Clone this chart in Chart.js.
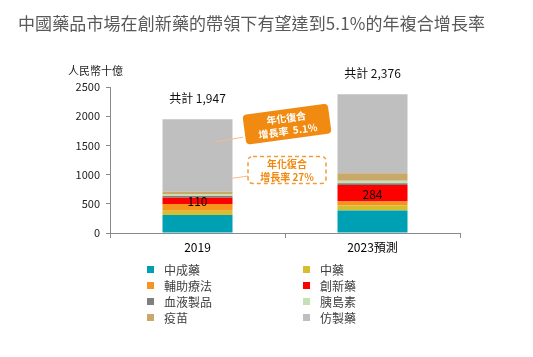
<!DOCTYPE html>
<html><head><meta charset="utf-8">
<script src="https://cdn.jsdelivr.net/npm/chart.js@4"></script>
<style>
html,body{margin:0;padding:0;background:#fff;}
#wrap{position:relative;width:533px;height:357px;font-family:"Noto Sans CJK TC","Noto Sans",sans-serif;}
#title{position:absolute;left:18px;top:10px;font-size:17px;color:#595959;white-space:nowrap;letter-spacing:0.1px;}
#unit{position:absolute;left:68px;top:62px;font-size:11px;color:#222;}
canvas{position:absolute;left:0;top:0;}
#legend{position:absolute;left:147px;top:262px;display:grid;grid-template-columns:156px 120px;row-gap:1px;}
.li{display:flex;align-items:center;height:15px;font-size:12px;color:#404040;}
.sw{width:7px;height:7px;margin-right:10px;}
</style></head>
<body><div id="wrap">
<canvas id="c" width="533" height="357"></canvas>
<div id="title">中國藥品市場在創新藥的帶領下有望達到5.1%的年複合增長率</div>
<div id="unit">人民幣十億</div>
<div id="legend"></div>
</div>
<script>
const categories = ["2019", "2023預測"];
const seriesNames = ["中成藥","中藥","輔助療法","創新藥","血液製品","胰島素","疫苗","仿製藥"];
const seriesColors = ["#00A0B4","#D6BE2E","#F7941D","#FF0000","#7F7F7F","#C5E0B4","#C8A96A","#BFBFBF"];
const s_zhongchengyao = [310, 385];
const s_zhongyao = [70, 86];
const s_fuzhu = [115, 68];
const s_chuangxin = [110, 284];
const s_xueye = [30, 29];
const s_yidaosu = [25, 44];
const s_yimiao = [45, 126];
const s_fangzhi = [1242, 1354];
const totals = [1947, 2376];
const yTicks = [0, 500, 1000, 1500, 2000, 2500];
const cagrLabels = [["年化復合","增長率  5.1%"],["年化復合","增長率 27%"]];

const seriesData = [s_zhongchengyao,s_zhongyao,s_fuzhu,s_chuangxin,s_xueye,s_yidaosu,s_yimiao,s_fangzhi];
const FONT = '"Noto Sans CJK TC","Noto Sans",sans-serif';

const leg = document.getElementById('legend');
seriesNames.forEach((n,i)=>{
  const d=document.createElement('div');d.className='li';
  d.innerHTML='<span class="sw" style="background:'+seriesColors[i]+'"></span><span>'+n+'</span>';
  leg.appendChild(d);
});

function rrect(ctx,x,y,w,h,r){
  ctx.beginPath();
  ctx.moveTo(x+r,y);ctx.lineTo(x+w-r,y);ctx.quadraticCurveTo(x+w,y,x+w,y+r);
  ctx.lineTo(x+w,y+h-r);ctx.quadraticCurveTo(x+w,y+h,x+w-r,y+h);
  ctx.lineTo(x+r,y+h);ctx.quadraticCurveTo(x,y+h,x,y+h-r);
  ctx.lineTo(x,y+r);ctx.quadraticCurveTo(x,y,x+r,y);ctx.closePath();
}

const overlay = {
  id:'overlay',
  afterDatasetsDraw(chart){
    const ctx=chart.ctx, xs=chart.scales.x, ys=chart.scales.y;
    ctx.save();
    ctx.font='12px '+FONT; ctx.fillStyle='#111'; ctx.textAlign='center'; ctx.textBaseline='middle';
    totals.forEach((t,i)=>{
      ctx.fillText('共計 '+t.toLocaleString('en-US'), xs.getPixelForValue(i), ys.getPixelForValue(t)-21);
    });
    const meta=chart.getDatasetMeta(3);
    meta.data.forEach((el,i)=>{
      ctx.fillStyle='#000'; ctx.font='12px '+FONT;
      ctx.fillText(String(s_chuangxin[i]), el.x, (el.y+el.base)/2+1);
    });
    const bar0=chart.getDatasetMeta(7).data[0];
    const half=bar0.width/2;
    const cx=xs.getPixelForValue(0.5)+2;
    ctx.strokeStyle='#F8B98A'; ctx.lineWidth=1;
    ctx.beginPath();
    ctx.moveTo(bar0.x+18, ys.getPixelForValue(1562));
    ctx.lineTo(cx-44, ys.getPixelForValue(1640));
    ctx.stroke();
    ctx.beginPath();
    ctx.moveTo(bar0.x+half, ys.getPixelForValue(938));
    ctx.lineTo(cx-39, ys.getPixelForValue(975));
    ctx.stroke();
    const cy1=ys.getPixelForValue(1865);
    ctx.save();
    ctx.translate(cx,cy1); ctx.rotate(-7.7*Math.PI/180);
    rrect(ctx,-43,-15,86,30,4); ctx.fillStyle='#F18A10'; ctx.fill();
    ctx.fillStyle='#fff'; ctx.font='bold 10px '+FONT;
    ctx.fillText(cagrLabels[0][0],0,-6); ctx.fillText(cagrLabels[0][1],0,7);
    ctx.restore();
    const cy2=ys.getPixelForValue(1080);
    rrect(ctx,cx-39,cy2-13.5,78,27,5);
    ctx.fillStyle='#fff'; ctx.fill();
    ctx.setLineDash([4,3]); ctx.strokeStyle='#F39A3A'; ctx.lineWidth=1.5; ctx.stroke();
    ctx.setLineDash([]);
    ctx.fillStyle='#F0880E'; ctx.font='bold 10px '+FONT;
    ctx.fillText(cagrLabels[1][0],cx,cy2-6); ctx.fillText(cagrLabels[1][1],cx,cy2+7);
    ctx.restore();
  }
};

new Chart(document.getElementById('c'),{
  type:'bar',
  data:{labels:categories,datasets:seriesNames.map((n,i)=>({label:n,data:seriesData[i],backgroundColor:seriesColors[i],borderWidth:0,categoryPercentage:1,barPercentage:0.4}))},
  options:{
    responsive:false,animation:false,
    layout:{padding:{left:60,right:73,top:87,bottom:104}},
    plugins:{legend:{display:false},tooltip:{enabled:false},title:{display:false}},
    scales:{
      x:{stacked:true,
        grid:{drawOnChartArea:false,drawTicks:true,tickLength:5,color:'#8a8a8a',offset:true},
        border:{display:true,color:'#8a8a8a'},
        ticks:{color:'#000',font:{family:FONT,size:12},padding:2},
        afterFit(s){s.height=20;}
      },
      y:{stacked:true,min:0,max:2500,
        afterBuildTicks(s){s.ticks=yTicks.map(v=>({value:v}));},
        grid:{drawOnChartArea:false,drawTicks:true,tickLength:4,color:'#8a8a8a'},
        border:{display:true,color:'#8a8a8a'},
        ticks:{color:'#222',font:{family:FONT,size:11},padding:6,callback:(v)=>String(v)},
        afterFit(s){s.width=50;}
      }
    }
  },
  plugins:[overlay]
});
</script>
</body></html>
